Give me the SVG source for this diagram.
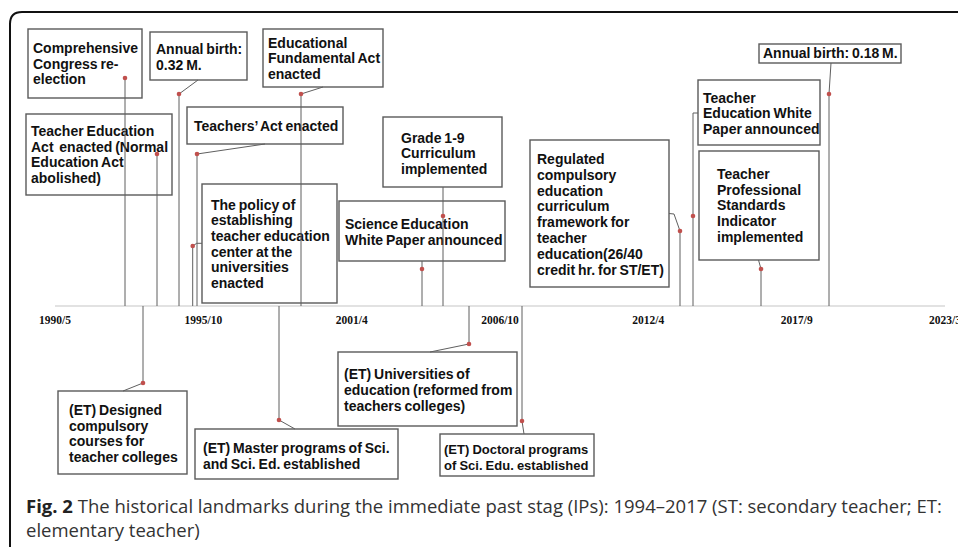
<svg xmlns="http://www.w3.org/2000/svg" width="958" height="547" viewBox="0 0 958 547">
<style>
.box{fill:#fff;stroke:#5a5a5a;stroke-width:1.4}
.t{font-family:"Liberation Sans",Arial,sans-serif;font-weight:bold;font-size:14px;word-spacing:-1px;fill:#111}
.t13{font-size:13px;word-spacing:-0.5px}
.c{fill:none;stroke:#5f5f5f;stroke-width:1}
.d{fill:#c0504d}
.ax{font-family:"Liberation Serif","Times New Roman",serif;font-weight:bold;font-size:11.5px;fill:#111;text-anchor:middle}
.cap{font-family:"Open Sans","Noto Sans",sans-serif;font-size:18.5px;fill:#333}
</style>
<rect width="958" height="547" fill="#fff"/>
<path d="M10,547 L10,24 Q10,12 22,12 L958,12" fill="none" stroke="#111" stroke-width="2"/>
<line x1="55" y1="306" x2="945" y2="306" stroke="#d9d9d9" stroke-width="1.5"/>
<g id="axis-labels">
<text class="ax" x="55" y="324">1990/5</text>
<text class="ax" x="203.3" y="324">1995/10</text>
<text class="ax" x="351.7" y="324">2001/4</text>
<text class="ax" x="500" y="324">2006/10</text>
<text class="ax" x="648.3" y="324">2012/4</text>
<text class="ax" x="796.7" y="324">2017/9</text>
<text class="ax" x="945" y="324">2023/3</text>
</g>
<g id="nodes">
<g id="n1"><rect class="box" x="28" y="29" width="114" height="69"/><text class="t"><tspan x="33" y="53">Comprehensive</tspan><tspan x="33" y="68.5">Congress re-</tspan><tspan x="33" y="84">election</tspan></text></g>
<g id="n2"><rect class="box" x="150" y="32" width="97" height="48"/><text class="t"><tspan x="156" y="53.5">Annual birth:</tspan><tspan x="156" y="69.5">0.32 M.</tspan></text></g>
<g id="n3"><rect class="box" x="263" y="29" width="120" height="58"/><text class="t"><tspan x="268" y="47.7">Educational</tspan><tspan x="268" y="63.3">Fundamental Act</tspan><tspan x="268" y="78.5">enacted</tspan></text></g>
<g id="n4"><rect class="box" x="26" y="114" width="146" height="81"/><text class="t"><tspan x="31" y="136">Teacher Education</tspan><tspan x="31" y="151.7">Act&#160; enacted (Normal</tspan><tspan x="31" y="167.3">Education Act</tspan><tspan x="31" y="183">abolished)</tspan></text></g>
<g id="n5"><rect class="box" x="187" y="107" width="156" height="37"/><text class="t" x="194" y="131">Teachers’ Act enacted</text></g>
<g id="n6"><rect class="box" x="202" y="184" width="135" height="119"/><text class="t"><tspan x="211" y="209.5">The policy of</tspan><tspan x="211" y="225.2">establishing</tspan><tspan x="211" y="240.8">teacher education</tspan><tspan x="211" y="256.5">center at the</tspan><tspan x="211" y="272.2">universities</tspan><tspan x="211" y="287.8">enacted</tspan></text></g>
<g id="n7"><rect class="box" x="383" y="117" width="119" height="70"/><text class="t"><tspan x="401" y="142.7">Grade 1-9</tspan><tspan x="401" y="158.4">Curriculum</tspan><tspan x="401" y="174">implemented</tspan></text></g>
<g id="n8"><rect class="box" x="339" y="201" width="166" height="60"/><text class="t"><tspan x="345" y="229">Science Education</tspan><tspan x="345" y="244.7">White Paper announced</tspan></text></g>
<g id="n9"><rect class="box" x="530" y="140" width="139" height="147"/><text class="t"><tspan x="537" y="164">Regulated</tspan><tspan x="537" y="179.8">compulsory</tspan><tspan x="537" y="195.6">education</tspan><tspan x="537" y="211.4">curriculum</tspan><tspan x="537" y="227.2">framework for</tspan><tspan x="537" y="243">teacher</tspan><tspan x="537" y="258.8">education(26/40</tspan><tspan x="537" y="274.6">credit hr. for ST/ET)</tspan></text></g>
<g id="n10"><rect class="box" x="698" y="80" width="122" height="65"/><text class="t"><tspan x="703" y="102.7">Teacher</tspan><tspan x="703" y="118.4">Education White</tspan><tspan x="703" y="134">Paper announced</tspan></text></g>
<g id="n11"><rect class="box" x="699" y="151" width="120" height="109"/><text class="t"><tspan x="717" y="179">Teacher</tspan><tspan x="717" y="194.7">Professional</tspan><tspan x="717" y="210.4">Standards</tspan><tspan x="717" y="226">Indicator</tspan><tspan x="717" y="241.8">implemented</tspan></text></g>
<g id="n12"><rect class="box" x="759" y="44" width="142" height="19"/><text class="t" x="763" y="58.3">Annual birth: 0.18 M.</text></g>
<g id="n13"><rect class="box" x="58" y="391" width="129" height="83"/><text class="t"><tspan x="69" y="415">(ET) Designed</tspan><tspan x="69" y="430.7">compulsory</tspan><tspan x="69" y="446.4">courses for</tspan><tspan x="69" y="462">teacher colleges</tspan></text></g>
<g id="n14"><rect class="box" x="195" y="429" width="203" height="50"/><text class="t"><tspan x="203" y="453.3">(ET) Master programs of Sci.</tspan><tspan x="203" y="469">and Sci. Ed. established</tspan></text></g>
<g id="n15"><rect class="box" x="338" y="352" width="179" height="74"/><text class="t"><tspan x="344" y="379.3">(ET) Universities of</tspan><tspan x="344" y="395">education (reformed from</tspan><tspan x="344" y="410.7">teachers colleges)</tspan></text></g>
<g id="n16"><rect class="box" x="440" y="434" width="154" height="42"/><text class="t t13"><tspan x="444" y="454">(ET) Doctoral programs</tspan><tspan x="444" y="469.7">of Sci. Edu. established</tspan></text></g>
</g>
<g id="connectors">
<polyline class="c" points="125,78 125,306"/>
<polyline class="c" points="198,80 179,94 179,306"/>
<polyline class="c" points="323,87 301,94 301,306"/>
<polyline class="c" points="157,154 157,306"/>
<polyline class="c" points="265,144 197,154 197,306"/>
<polyline class="c" points="202,243.3 196.7,243.3 192.7,246 192.7,306"/>
<polyline class="c" points="443,187 443,306"/>
<polyline class="c" points="422,261 422,306"/>
<polyline class="c" points="669,213.5 674,214 680,231 680,306"/>
<polyline class="c" points="698,113 693,113 693,306"/>
<polyline class="c" points="758.5,260 761,269 761,306"/>
<polyline class="c" points="831,63 829,94 829,306"/>
<polyline class="c" points="143,306 143,383 123,391"/>
<polyline class="c" points="279,306 279,420 295,429"/>
<polyline class="c" points="469,306 469,344 430,352"/>
<polyline class="c" points="522,306 522,421 524,434"/>
<g id="dots">
<circle class="d" cx="125" cy="78" r="2.3"/>
<circle class="d" cx="179" cy="94" r="2.3"/>
<circle class="d" cx="301" cy="94" r="2.3"/>
<circle class="d" cx="157" cy="154" r="2.3"/>
<circle class="d" cx="197" cy="154" r="2.3"/>
<circle class="d" cx="192.7" cy="246" r="2.3"/>
<circle class="d" cx="443" cy="216" r="2.3"/>
<circle class="d" cx="422" cy="269" r="2.3"/>
<circle class="d" cx="680" cy="231" r="2.3"/>
<circle class="d" cx="693" cy="216" r="2.3"/>
<circle class="d" cx="761" cy="269" r="2.3"/>
<circle class="d" cx="829" cy="94" r="2.3"/>
<circle class="d" cx="143" cy="383" r="2.3"/>
<circle class="d" cx="279" cy="420" r="2.3"/>
<circle class="d" cx="469" cy="344" r="2.3"/>
<circle class="d" cx="522" cy="421" r="2.3"/>
</g>
</g>
<g id="caption">
<text class="cap" x="26" y="513"><tspan font-weight="bold" fill="#222">Fig. 2</tspan> The historical landmarks during the immediate past stag (IPs): 1994–2017 (ST: secondary teacher; ET:</text>
<text class="cap" x="26" y="537">elementary teacher)</text>
</g>
</svg>
